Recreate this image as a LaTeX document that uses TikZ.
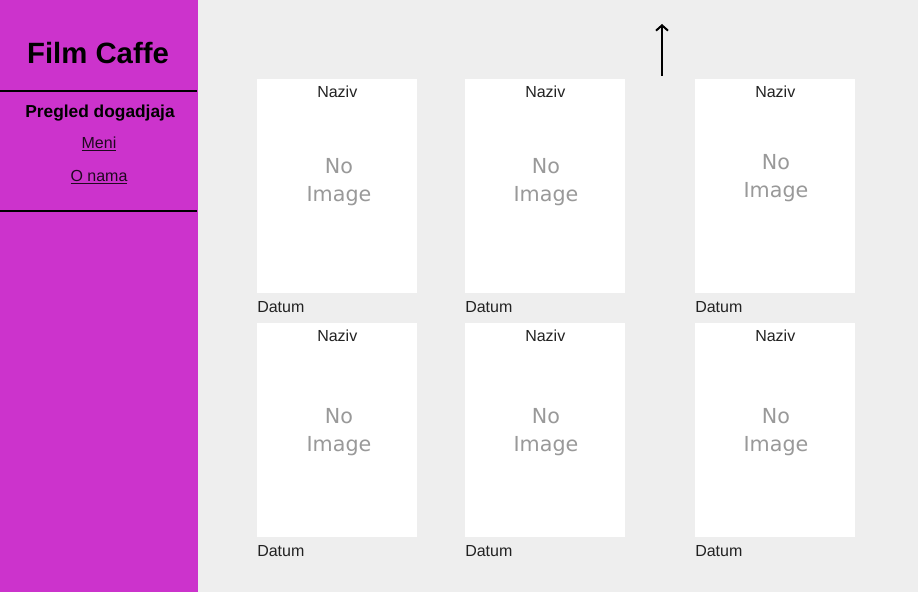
\documentclass[tikz,border=0pt]{standalone}
\usepackage{fontspec}
\setmainfont{Liberation Sans}
\newfontfamily\noimgfont{DejaVu Sans}
\usetikzlibrary{arrows.meta}
\definecolor{sidepurple}{HTML}{CC33CC}
\definecolor{pagegray}{HTML}{EEEEEE}
\definecolor{noimggray}{HTML}{999999}
\definecolor{cardtext}{HTML}{222222}
\tikzset{
  card/.style={fill=white, draw=none, minimum width=120pt, minimum height=160.5pt, anchor=north west, inner sep=0pt},
  naziv/.style={font=\fontsize{12}{14}\selectfont, text=cardtext, anchor=center, inner sep=0pt},
  datum/.style={font=\fontsize{12}{14}\selectfont, text=cardtext, anchor=west, inner sep=0pt},
  noimg/.style={font=\noimgfont\fontsize{15.5}{21}\selectfont, text=noimggray, align=center, inner sep=0pt},
  sepline/.style={line width=1.6pt, draw=black},
  navlink/.style={font=\fontsize{12}{14}\selectfont, text=black!85!sidepurple, inner sep=0pt}
}
\begin{document}
\begin{tikzpicture}[x=0.75pt,y=-0.75pt]
\useasboundingbox (0,0) rectangle (920,595);
\fill[white] (0,0) rectangle (920,595);
\fill[pagegray] (198,0) rectangle (918,592);
\fill[sidepurple] (0,0) rectangle (198,592);
\node[font=\bfseries\fontsize{22}{26}\selectfont, inner sep=0pt] (title) at (98,53) {Film Caffe};
\coordinate (l1a) at (0,91); \coordinate (l1b) at (197,91);
\draw[sepline] (l1a) -- (l1b);
\node[font=\bfseries\fontsize{13}{16}\selectfont, inner sep=0pt] (pregled) at (100,113) {Pregled dogadjaja};
\node[navlink] (meni) at (99,144) {\underline{Meni}};
\node[navlink] (onama) at (99,177) {\underline{O nama}};
\coordinate (l2a) at (0,211); \coordinate (l2b) at (197,211);
\draw[sepline] (l2a) -- (l2b);
% arrow
\coordinate (arrB) at (662,76);
\coordinate (arrT) at (662,24);
\draw[line width=1.5pt, -{Straight Barb[length=4pt,width=9pt]}] (arrB) -- (arrT);
% cards
\foreach \cx/\n in {257/a,465/b,695/c}{
  \foreach \cy/\r in {79/1,323/2}{
    \node[card] (card\n\r) at (\cx,\cy) {};
    \node[naziv] (naz\n\r) at ([yshift=-9.5pt]card\n\r.north) {Naziv};
    \node[datum] (dat\n\r) at ([yshift=-10pt]card\n\r.south west) {Datum};
  }
}
\node[noimg] (noa1) at (339,182) {No\\Image};
\node[noimg] (nob1) at (546,182) {No\\Image};
\node[noimg] (noc1) at (776,178) {No\\Image};
\node[noimg] (noa2) at (339,432) {No\\Image};
\node[noimg] (nob2) at (546,432) {No\\Image};
\node[noimg] (noc2) at (776,432) {No\\Image};
\end{tikzpicture}
\end{document}
